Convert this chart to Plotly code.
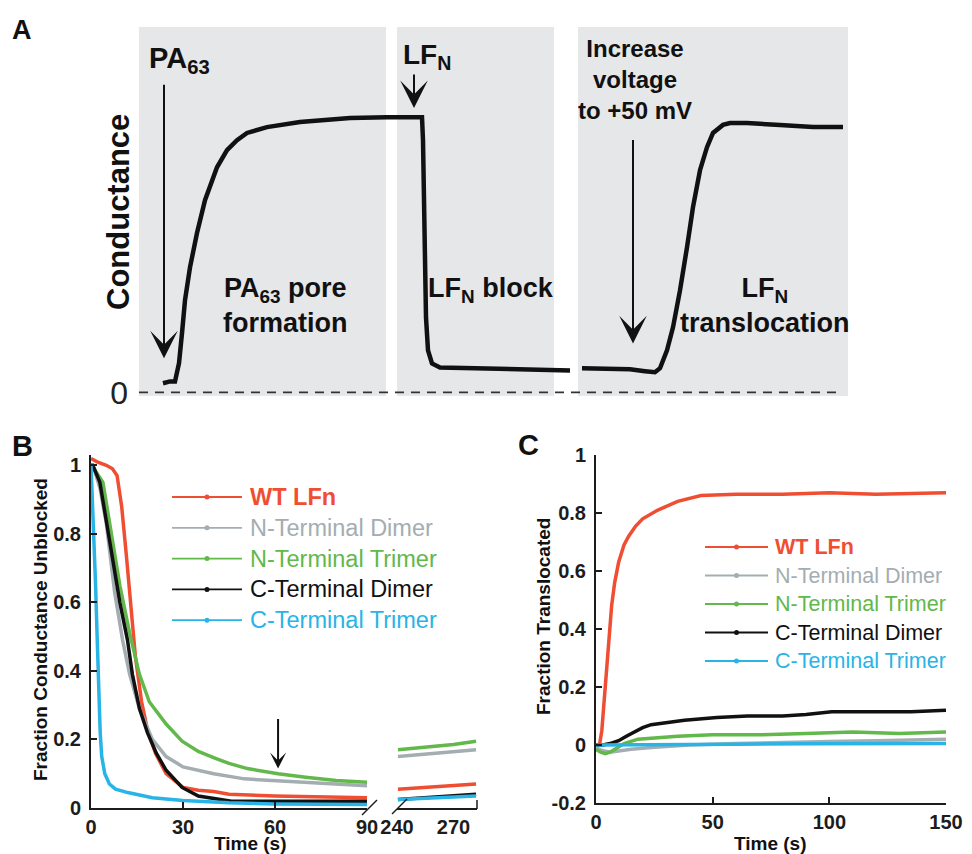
import plotly.graph_objects as go

FONT = "Liberation Sans, Arial, Helvetica, sans-serif"
# The page body has an 8px margin; window pixel coordinates are shifted by it.
OFF = 8
W, H = 972 - OFF, 854

# ---------------- Panel A: conductance trace (arbitrary time units) ----------------
a_time = [24, 31, 36, 40, 43, 46, 51, 58, 66, 78, 88, 98, 108, 128, 161, 211, 248, 271, 283,
          284, 285, 286, 287, 289, 293, 301, 341, 381, 431,
          None,
          443, 461, 491, 506, 516, 521, 528, 534, 541, 548, 554, 561, 568, 574, 584, 591, 608, 641, 674, 704]
a_cond = [0.025, 0.03, 0.03, 0.08, 0.162, 0.252, 0.342, 0.436, 0.526, 0.616, 0.663, 0.690, 0.710, 0.726, 0.740, 0.751, 0.753, 0.753, 0.753,
          0.690, 0.526, 0.342, 0.205, 0.115, 0.079, 0.068, 0.066, 0.063, 0.060,
          None,
          0.066, 0.066, 0.063, 0.058, 0.055, 0.066, 0.115, 0.178, 0.279, 0.397, 0.507, 0.608, 0.671, 0.710, 0.732, 0.737, 0.737, 0.732, 0.726, 0.726]
a_boxes = [(0, 247), (258, 415), (439, 709)]

# ---------------- Panel B: fraction conductance unblocked ----------------
b_names = ["WT LFn", "N-Terminal Dimer", "N-Terminal Trimer", "C-Terminal Dimer", "C-Terminal Trimer"]
b_colors = ["#ef4e33", "#a4adb1", "#62b84a", "#111111", "#28b4e6"]
b_name_weights = ["bold", "normal", "normal", "normal", "normal"]

b_red_t = [0, 2, 5, 7, 8.5, 10, 11.5, 13, 14.5, 16.5, 18.5, 21, 24.5, 30, 35, 40, 45, 60, 75, 90]
b_red_v = [1.02, 1.01, 1.0, 0.99, 0.97, 0.88, 0.74, 0.59, 0.44, 0.31, 0.225, 0.16, 0.10, 0.06, 0.052, 0.048, 0.04, 0.035, 0.032, 0.03]
b_gray_t = [0, 1, 3, 5, 7.7, 10.3, 12.6, 15.8, 20, 24.5, 30, 35, 40, 50, 60, 70, 80, 90]
b_gray_v = [1.0, 0.99, 0.93, 0.83, 0.63, 0.49, 0.39, 0.29, 0.2, 0.15, 0.12, 0.11, 0.1, 0.085, 0.08, 0.075, 0.07, 0.065]
b_green_t = [0, 1, 3.9, 6.1, 9.4, 12.6, 15.8, 19, 24.5, 29.7, 35, 40.6, 45, 51, 61, 70, 80, 90]
b_green_v = [1.0, 0.99, 0.95, 0.83, 0.65, 0.51, 0.39, 0.31, 0.245, 0.195, 0.165, 0.145, 0.13, 0.115, 0.1, 0.09, 0.08, 0.075]
b_black_t = [0, 0.6, 2.9, 6.1, 9.4, 11.9, 13.5, 15.8, 18.4, 21.3, 24.5, 29.7, 35, 45.8, 60, 75, 90]
b_black_v = [1.0, 1.0, 0.95, 0.78, 0.6, 0.49, 0.39, 0.29, 0.22, 0.16, 0.11, 0.06, 0.035, 0.02, 0.02, 0.02, 0.02]
b_cyan_t = [0, 0.5, 1, 1.5, 2, 2.5, 3, 3.5, 4.5, 6, 8, 12, 20, 30, 45, 60, 75, 90]
b_cyan_v = [1.0, 0.9, 0.78, 0.65, 0.5, 0.35, 0.22, 0.15, 0.1, 0.07, 0.055, 0.045, 0.03, 0.022, 0.015, 0.012, 0.01, 0.01]

b_late_t = [240.5, 250, 260, 270, 282]
b_late_red = [0.055, 0.058, 0.062, 0.065, 0.07]
b_late_gray = [0.15, 0.155, 0.16, 0.165, 0.17]
b_late_green = [0.17, 0.175, 0.18, 0.185, 0.195]
b_late_black = [0.025, 0.028, 0.032, 0.036, 0.04]
b_late_cyan = [0.025, 0.027, 0.03, 0.032, 0.035]

b_yticks = [0, 0.2, 0.4, 0.6, 0.8, 1]
b_yticklabels = ["0", "0.2", "0.4", "0.6", "0.8", "1"]
b_xticks_early = [0, 30, 60, 90]
b_xticks_late = [240, 270]

# ---------------- Panel C: fraction translocated ----------------
c_red_t = [0, 1.5, 2.5, 3.5, 4.5, 5.5, 6.7, 8, 9.7, 12, 14, 17, 20, 26.5, 35, 45, 60, 80, 100, 120, 150]
c_red_v = [0, 0, 0.05, 0.15, 0.26, 0.37, 0.48, 0.56, 0.63, 0.69, 0.72, 0.755, 0.78, 0.81, 0.84, 0.86, 0.865, 0.865, 0.87, 0.865, 0.87]
c_gray_t = [0, 3, 6, 10, 15, 25, 40, 60, 80, 100, 120, 150]
c_gray_v = [-0.01, -0.02, -0.025, -0.02, -0.015, -0.008, 0.0, 0.005, 0.01, 0.012, 0.015, 0.02]
c_green_t = [0, 2, 4, 6, 9, 12, 18, 25, 35, 50, 70, 90, 110, 130, 150]
c_green_v = [-0.015, -0.025, -0.03, -0.025, -0.01, 0.005, 0.02, 0.025, 0.03, 0.035, 0.035, 0.04, 0.045, 0.04, 0.045]
c_black_t = [0, 3, 6, 9.7, 13, 16.8, 20, 23.6, 30, 37.9, 51.8, 65, 80, 90, 101, 110, 122, 135, 150]
c_black_v = [0, 0, 0.005, 0.015, 0.03, 0.045, 0.06, 0.07, 0.078, 0.085, 0.095, 0.1, 0.1, 0.105, 0.115, 0.115, 0.117, 0.115, 0.12]
c_cyan_t = [0, 10, 30, 60, 90, 120, 150]
c_cyan_v = [0, 0, 0.002, 0.003, 0.004, 0.005, 0.005]

c_yticks = [-0.2, 0, 0.2, 0.4, 0.6, 0.8, 1]
c_yticklabels = ["-0.2", "0", "0.2", "0.4", "0.6", "0.8", "1"]
c_xticks = [0, 50, 100, 150]


def px(x):
    """window pixel x -> paper fraction"""
    return (x - OFF) / W


def py(y):
    """window pixel y -> paper fraction"""
    return 1 - (y - OFF) / H


fig = go.Figure()

# Panel A trace
fig.add_trace(go.Scatter(x=a_time, y=a_cond, mode="lines", xaxis="x", yaxis="y",
                         line=dict(color="#111111", width=4.5), connectgaps=False, hoverinfo="skip"))

# Panel B traces
b_early = [(b_red_t, b_red_v), (b_gray_t, b_gray_v), (b_green_t, b_green_v),
           (b_black_t, b_black_v), (b_cyan_t, b_cyan_v)]
b_late = [b_late_red, b_late_gray, b_late_green, b_late_black, b_late_cyan]
for (t, v), col in zip(b_early, b_colors):
    fig.add_trace(go.Scatter(x=t, y=v, mode="lines", xaxis="x2", yaxis="y2",
                             line=dict(color=col, width=3.5), hoverinfo="skip"))
for v, col in zip(b_late, b_colors):
    fig.add_trace(go.Scatter(x=b_late_t, y=v, mode="lines", xaxis="x3", yaxis="y3",
                             line=dict(color=col, width=3.5), hoverinfo="skip"))

# Panel C traces
c_series = [(c_red_t, c_red_v), (c_gray_t, c_gray_v), (c_green_t, c_green_v),
            (c_black_t, c_black_v), (c_cyan_t, c_cyan_v)]
for (t, v), col in zip(c_series, b_colors):
    fig.add_trace(go.Scatter(x=t, y=v, mode="lines", xaxis="x4", yaxis="y4",
                             line=dict(color=col, width=3.5), hoverinfo="skip"))

AX = "#1c1c1c"
tickfont = dict(family=FONT, size=20, color=AX, weight="bold")
common = dict(showgrid=False, zeroline=False, automargin=False)
axline = dict(showline=True, linecolor=AX, linewidth=2, ticks="inside", ticklen=6, tickwidth=1.5,
              tickcolor=AX, tickfont=tickfont)

fig.update_layout(
    width=W, height=H, margin=dict(l=0, r=0, t=0, b=0, autoexpand=False),
    paper_bgcolor="white", plot_bgcolor="rgba(0,0,0,0)", showlegend=False,
    font=dict(family=FONT, color=AX),
    # Panel A
    xaxis=dict(domain=[px(139), px(848)], range=[0, 709], visible=False, anchor="y", **common),
    yaxis=dict(domain=[py(396), py(27)], range=[-0.01, 1.0], anchor="x",
               showline=False, ticks="", tickvals=[0], ticktext=["0"],
               tickfont=dict(family=FONT, size=32, color="#222"), ticklabelstandoff=10, **common),
    # Panel B, early segment
    xaxis2=dict(domain=[px(91), px(367)], range=[0, 90], anchor="y2", tickvals=b_xticks_early,
                **axline, **common),
    yaxis2=dict(domain=[py(808), py(455)], range=[0, 1.03], anchor="x2", tickvals=b_yticks,
                ticktext=b_yticklabels, ticklabelstandoff=4, **axline, **common),
    # Panel B, late segment
    xaxis3=dict(domain=[px(397), px(477)], range=[240, 282.5], anchor="y3", showline=True,
                linecolor=AX, linewidth=2, ticks="", tickvals=b_xticks_late, tickfont=tickfont, **common),
    yaxis3=dict(domain=[py(808), py(455)], range=[0, 1.03], anchor="x3", visible=False, **common),
    # Panel C
    xaxis4=dict(domain=[px(596), px(946)], range=[0, 150], anchor="y4", tickvals=c_xticks,
                **axline, **common),
    yaxis4=dict(domain=[py(803), py(455)], range=[-0.2, 1.0], anchor="x4", tickvals=c_yticks,
                ticktext=c_yticklabels, ticklabelstandoff=4, **axline, **common),
)

shapes = []
# Panel A grey boxes
for x0, x1 in a_boxes:
    shapes.append(dict(type="rect", xref="x", yref="y", x0=x0, x1=x1, y0=-0.01, y1=1.0,
                       fillcolor="#e6e7e9", line=dict(width=0), layer="below"))
# Panel A dashed zero line
shapes.append(dict(type="line", xref="x", yref="y", x0=0, x1=704, y0=0, y1=0,
                   line=dict(color="#333", width=1.8, dash="9px,7px")))
# Panel B axis break marks
shapes.append(dict(type="line", xref="paper", yref="paper", x0=px(362), x1=px(377), y0=py(815), y1=py(800),
                   line=dict(color=AX, width=1.5)))
shapes.append(dict(type="line", xref="paper", yref="paper", x0=px(392), x1=px(407), y0=py(814), y1=py(799),
                   line=dict(color=AX, width=1.5)))
shapes.append(dict(type="line", xref="paper", yref="paper", x0=px(477), x1=px(477), y0=py(809), y1=py(800),
                   line=dict(color=AX, width=1.5)))

annotations = []


def txt(text, x, y, size, xanchor="center", yanchor="middle", color="#111", weight="bold", angle=0, align="center"):
    annotations.append(dict(text=text, x=px(x), y=py(y), xref="paper", yref="paper", showarrow=False,
                            xanchor=xanchor, yanchor=yanchor, textangle=angle, align=align,
                            font=dict(family=FONT, size=size, color=color, weight=weight)))


# Panel letters
txt("A", 22, 30, 27)
txt("B", 22, 446, 29)
txt("C", 528, 445, 29)

# Panel A labels
txt("Conductance", 118, 212, 31, angle=-90)
txt("PA<sub>63</sub>", 147, 60, 29, xanchor="left")
txt("LF<sub>N</sub>", 401, 57, 28, xanchor="left")
txt("Increase<br>voltage<br>to +50 mV", 635, 80, 24)
txt("PA<sub>63</sub> pore<br>formation", 285, 306, 27)
txt("LF<sub>N</sub> block", 491, 290, 27)
txt("LF<sub>N</sub><br>translocation", 765, 306, 27)
# Axis titles
txt("Time (s)", 250, 843, 19)
txt("Time (s)", 770, 843, 19)
txt("Fraction Conductance Unblocked", 40, 630, 19, angle=-90)
txt("Fraction Translocated", 543, 617, 19, angle=-90)

# Panel A arrows
arrows_a = [(25, 0.093, -275), (275, 0.778, -35), (494, 0.134, -205)]
for xa, ya, ay in arrows_a:
    annotations.append(dict(x=xa, y=ya, xref="x", yref="y", ax=0, ay=ay, text="", showarrow=True,
                            arrowhead=3, arrowsize=2.3, arrowwidth=2, arrowcolor="#111"))
# Panel B arrow
annotations.append(dict(x=61, y=0.115, xref="x2", yref="y2", ax=0, ay=-51, text="", showarrow=True,
                        arrowhead=3, arrowsize=1.35, arrowwidth=2, arrowcolor="#111"))


# Manual legends (long line with centre dot)
def legend(x_line0, x_line1, x_text, y0, dy, size):
    for i, (name, col, wt) in enumerate(zip(b_names, b_colors, b_name_weights)):
        yy = y0 + i * dy
        shapes.append(dict(type="line", xref="paper", yref="paper", x0=px(x_line0), x1=px(x_line1),
                           y0=py(yy), y1=py(yy), line=dict(color=col, width=1.8)))
        xm = (x_line0 + x_line1) / 2
        shapes.append(dict(type="circle", xref="paper", yref="paper", x0=px(xm - 2.5), x1=px(xm + 2.5),
                           y0=py(yy + 2.5), y1=py(yy - 2.5), fillcolor=col, line=dict(width=0)))
        txt(name, x_text, yy, size, xanchor="left", color=col, weight=wt)


legend(172, 242, 248, 497, 30.8, 23.5)
legend(705, 768, 773, 547, 28.5, 21.5)

fig.update_layout(shapes=shapes, annotations=annotations)
fig.write_html("out.html")
